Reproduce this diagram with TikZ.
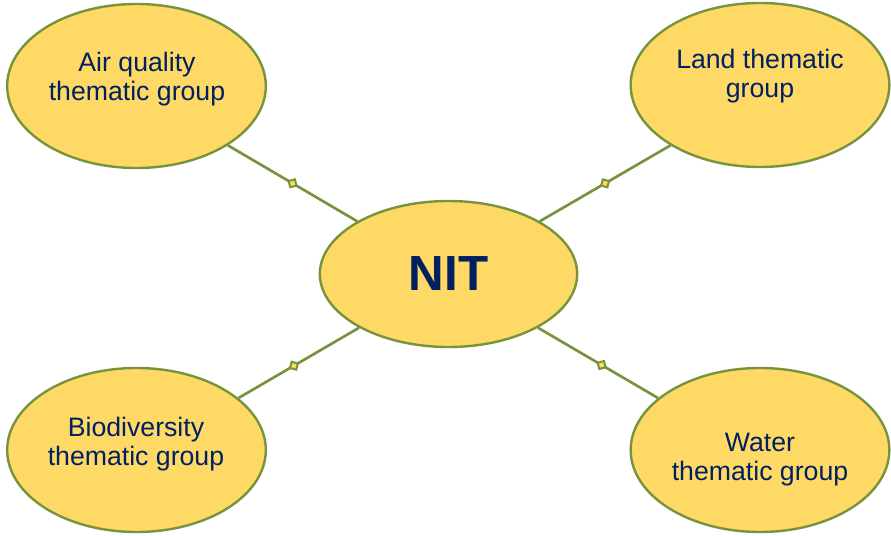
\documentclass[tikz,border=0pt]{standalone}
\usepackage{fontspec}
\setmainfont{Liberation Sans}
\usetikzlibrary{shapes.geometric}
\definecolor{gold}{HTML}{FFD966}
\definecolor{olive}{HTML}{77933C}
\definecolor{navy}{HTML}{002060}
\begin{document}
\begin{tikzpicture}[x=0.75pt, y=0.75pt,
    group/.style={ellipse, draw=olive, line width=1.8pt, fill=gold, inner sep=0pt,
      minimum width=194pt, minimum height=123pt},
    grouptext/.style={align=center, text=navy, inner sep=0pt,
      font=\fontsize{20}{21.75}\selectfont},
    link/.style={draw=olive, line width=2pt},
    joint/.style={diamond, aspect=1, draw=olive, fill=gold, line width=1.5pt,
      inner sep=0pt, minimum size=7.5pt, sloped}]
  \useasboundingbox (0,0) rectangle (891,535);
  % hub
  \node[group, minimum width=193pt, minimum height=109.5pt] (nit) at (448.5,261)
    {\fontsize{37}{40}\selectfont\bfseries\color{navy}NIT};
  % thematic groups
  \node[group] (air) at (136.5,449) {};
  \node[group] (land) at (760,450) {};
  \node[group] (bio) at (136.5,85) {};
  \node[group] (water) at (760,85) {};
  \node[grouptext] (airtext) at (137,456.3) {Air quality\\thematic group};
  \node[grouptext] (landtext) at (760,458.8) {Land thematic\\group};
  \node[grouptext] (biotext) at (136,90.8) {Biodiversity\\thematic group};
  \node[grouptext] (watertext) at (760,75.7) {Water\\thematic group};
  % links
  \draw[link] (air.-33) -- node[joint] {} (nit.150);
  \draw[link] (land.-146) -- node[joint] {} (nit.30);
  \draw[link] (bio.27) -- node[joint, pos=0.46] {} (nit.211);
  \draw[link] (water.153) -- node[joint, pos=0.47] {} (nit.-31);
\end{tikzpicture}
\end{document}
